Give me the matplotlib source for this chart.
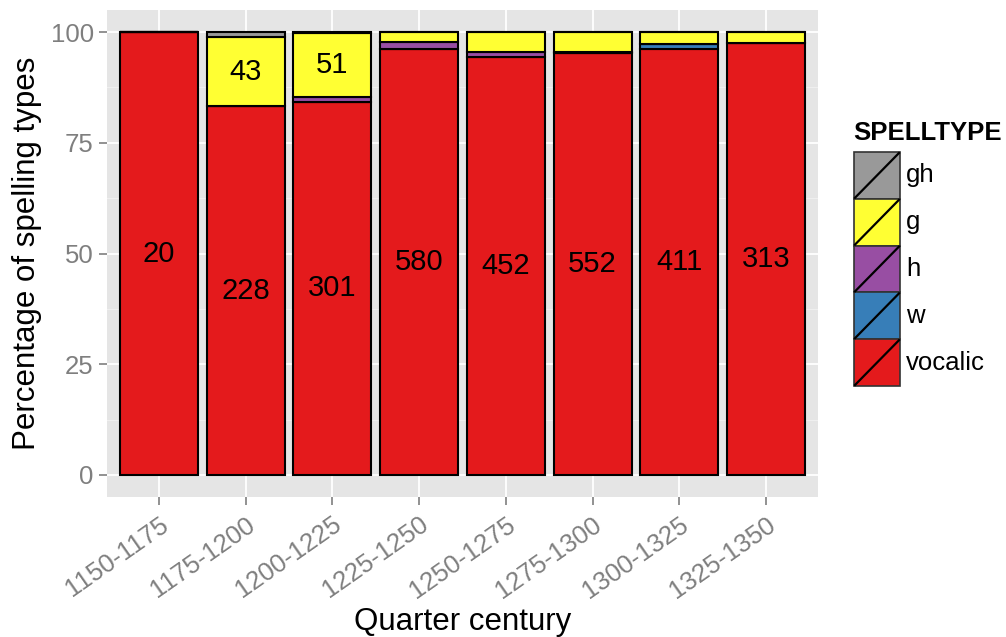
import matplotlib
matplotlib.use("Agg")
import matplotlib.pyplot as plt
from matplotlib.patches import Rectangle
from matplotlib.lines import Line2D
from matplotlib.ticker import MultipleLocator
import numpy as np

plt.rcParams['font.family'] = ['Liberation Sans', 'DejaVu Sans']

periods = ["1150-1175", "1175-1200", "1200-1225", "1225-1250",
           "1250-1275", "1275-1300", "1300-1325", "1325-1350"]

# Token counts per spelling type (stacking order: bottom to top)
vocalic = [20, 228, 301, 580, 452, 552, 411, 313]
w_cnt   = [0, 0, 0, 0, 0, 0, 5, 0]
h_cnt   = [0, 0, 4, 10, 6, 1, 0, 0]
g_cnt   = [0, 43, 51, 13, 21, 26, 11, 8]
gh_cnt  = [0, 3, 1, 0, 0, 0, 0, 0]

types = ["vocalic", "w", "h", "g", "gh"]
colors = {"vocalic": "#E41A1C", "w": "#377EB8", "h": "#984EA3",
          "g": "#FFFF33", "gh": "#999999"}
counts = {"vocalic": vocalic, "w": w_cnt, "h": h_cnt, "g": g_cnt, "gh": gh_cnt}

W, H = 1006, 637
fig = plt.figure(figsize=(W / 100, H / 100), dpi=100)
# panel in pixel coordinates
px0, px1, py0, py1 = 107, 818, 10, 497
ax = fig.add_axes([px0 / W, 1 - py1 / H, (px1 - px0) / W, (py1 - py0) / H])
ax.set_facecolor("#E5E5E5")

x = np.arange(1, len(periods) + 1)
totals = np.sum([np.array(counts[t]) for t in types], axis=0)
bottom = np.zeros(len(periods))
for t in types:
    c = np.array(counts[t], dtype=float)
    pct = c / totals * 100
    ax.bar(x, pct, bottom=bottom, width=0.9, color=colors[t],
           edgecolor="black", linewidth=1.5, zorder=3)
    for xi, b, p, n in zip(x, bottom, pct, c):
        if p >= 10:
            ax.text(xi, b + p / 2, f"{int(n)}", ha="center", va="center",
                    fontsize=21, color="black", zorder=4)
    bottom += pct

ax.set_xlim(0.4, 8.6)
ax.set_ylim(-5, 105)
ax.set_yticks([0, 25, 50, 75, 100])
ax.yaxis.set_minor_locator(MultipleLocator(12.5))
ax.set_xticks(x)
ax.set_xticklabels(periods, rotation=35, ha="right", rotation_mode="anchor")
ax.grid(which="major", color="white", linewidth=1.3, zorder=0)
ax.grid(which="minor", axis="y", color="#F2F2F2", linewidth=0.6, zorder=0)
ax.set_axisbelow(True)
for s in ax.spines.values():
    s.set_visible(False)
ax.tick_params(axis="both", which="major", colors="#7F7F7F", length=6,
               width=1.2, labelsize=18.5, labelcolor="#7F7F7F")
ax.tick_params(axis="y", which="minor", length=0)
ax.tick_params(axis="x", pad=5)
ax.set_xlabel("Quarter century", fontsize=22.5, labelpad=3)
ax.set_ylabel("Percentage of spelling types", fontsize=22.5, labelpad=6)

# legend drawn in figure pixel space
lax = fig.add_axes([0, 0, 1, 1], facecolor="none")
lax.set_xlim(0, W)
lax.set_ylim(H, 0)
lax.axis("off")
lax.text(853, 133, "SPELLTYPE", fontsize=18.5, fontweight="bold",
         ha="left", va="center")
key_x, key_w, key_top, key_h = 854, 46, 152, 46.8
for i, t in enumerate(["gh", "g", "h", "w", "vocalic"]):
    y0 = key_top + i * key_h
    lax.add_patch(Rectangle((key_x, y0), key_w, key_h, facecolor=colors[t],
                            edgecolor="#333333", linewidth=1.2))
    lax.add_line(Line2D([key_x + 1, key_x + key_w - 1],
                        [y0 + key_h - 1, y0 + 1], color="black", linewidth=1.6))
    lax.text(key_x + key_w + 6, y0 + key_h / 2, t, fontsize=18.5,
             ha="left", va="center")

fig.savefig("out.png", dpi=100)
